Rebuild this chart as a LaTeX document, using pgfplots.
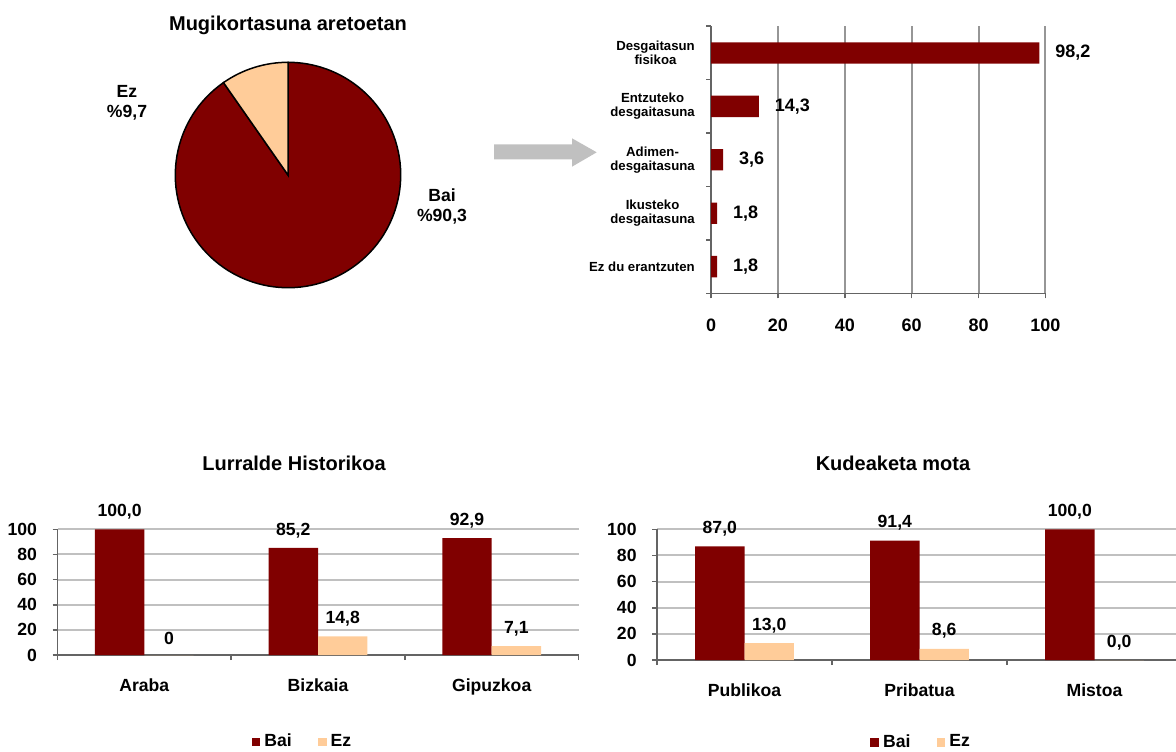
\documentclass[border=0pt]{standalone}
\usepackage{fontspec}
\setmainfont{Liberation Sans}
\usepackage{pgfplots}
\usepackage{pgfplotstable}
\pgfplotsset{compat=1.18}

\definecolor{bai}{RGB}{128,0,0}
\definecolor{ez}{RGB}{255,204,153}
\definecolor{gridc}{RGB}{192,192,192}
\definecolor{hgrid}{RGB}{150,150,150}
\definecolor{axc}{RGB}{100,100,100}
\definecolor{arrowc}{RGB}{192,192,192}

\newcommand\fa{\fontsize{8.8}{10}\selectfont\bfseries}
\newcommand\fb{\fontsize{10}{12}\selectfont\bfseries}
\newcommand\fc{\fontsize{6.6}{7}\selectfont\bfseries}
\newcommand\fd{\fontsize{9}{10}\selectfont\bfseries}

% pie: Bai / Ez
\def\pieBai{90.3}
\def\pieEz{9.7}
\pgfmathsetmacro\ezend{90+3.6*\pieEz}

\pgfplotstableread{
y val lbl
5 98.2 98,2
4 14.3 14,3
3 3.6 3,6
2 1.8 1,8
1 1.8 1,8
}\desgaitasuna

\pgfplotstableread{
x bai ez bailbl ezlbl
0 100.0 0 100,0 0
1 85.2 14.8 85,2 14,8
2 92.9 7.1 92,9 7,1
}\lurralde

\pgfplotstableread{
x bai ez bailbl ezlbl
0 87.0 13.0 87,0 13,0
1 91.4 8.6 91,4 8,6
2 100.0 0.0 100,0 0,0
}\kudeaketa

\pgfplotsset{
  vbars/.style={
    scale only axis, clip=false,
    ybar=0pt, bar width=24.7pt,
    xmin=-0.5, xmax=2.5, ymin=0, ymax=100,
    axis x line*=bottom, axis y line*=left,
    axis line style={axc, line width=0.8pt},
    tick style={axc, line width=0.8pt},
    xtick={0,1,2}, minor xtick={-0.5,0.5,1.5,2.5},
    ytick={0,20,...,100}, minor ytick={0,20,...,100},
    major tick length=0pt, minor tick length=2.5pt, tick align=outside,
    ymajorgrids, grid style={gridc, line width=1pt},
    tick label style={font=\fa},
    /pgf/number format/assume math mode=true,
    xticklabel style={yshift=-8.4pt},
    yticklabel style={xshift=-6.7pt},
    point meta=explicit symbolic,
    nodes near coords,
    every node near coord/.append style={font=\fa, yshift=1.5pt},
    legend style={draw=none, fill=none, font=\fa, legend columns=2,
      nodes={inner xsep=2pt},
      /tikz/every even column/.append style={column sep=11pt}},
  },
}

\begin{document}
\begin{tikzpicture}
\useasboundingbox (0,0) rectangle (588pt,375.5pt);

% pie chart
\node[font=\fb] at (144pt,363pt) {Mugikortasuna aretoetan};
\begin{axis}[at={(87.65pt,231.65pt)}, anchor=south west, scale only axis,
  width=112.7pt, height=112.7pt, hide axis, clip=false,
  xmin=-1, xmax=1, ymin=-1, ymax=1]
  \filldraw[fill=bai, draw=black, line width=0.75pt] (axis cs:0,0) -- ++(\ezend:56.35pt)
    arc[start angle=\ezend, end angle=450, radius=56.35pt] -- cycle;
  \filldraw[fill=ez, draw=black, line width=0.75pt] (axis cs:0,0) -- ++(90:56.35pt)
    arc[start angle=90, end angle=\ezend, radius=56.35pt] -- cycle;
\end{axis}
\node[font=\fa, align=center] at (63.5pt,324pt) {Ez\\\%9,7};
\node[font=\fa, align=center] at (221pt,272.5pt) {Bai\\\%90,3};

% arrow
\fill[arrowc] (247pt,303.35pt) -- (286pt,303.35pt) -- (286pt,306.35pt) -- (298.35pt,299.35pt)
  -- (286pt,292.15pt) -- (286pt,295.85pt) -- (247pt,295.85pt) -- cycle;

% horizontal bars
\begin{axis}[at={(355.5pt,228.85pt)}, anchor=south west, scale only axis,
  width=167.2pt, height=133.5pt, clip=false,
  xbar, bar width=10.7pt,
  xmin=0, xmax=100, ymin=0.5, ymax=5.5,
  axis x line*=bottom, axis y line*=left,
  axis line style={axc, line width=0.8pt},
  tick style={axc, line width=0.8pt},
  xtick={0,20,...,100}, minor xtick={0,20,...,100},
  ytick={1,...,5}, minor ytick={0.5,1.5,...,5.5},
  yticklabels={{Ez du erantzuten},{Ikusteko\\desgaitasuna},{Adimen-\\desgaitasuna},{Entzuteko\\desgaitasuna},{Desgaitasun\\fisikoa}},
  major tick length=0pt, minor tick length=2.5pt, tick align=outside,
  xmajorgrids, grid style={hgrid, line width=1pt},
  xticklabel style={font=\fd, yshift=-9.3pt},
  yticklabel style={font=\fc, align=center, xshift=-4.6pt},
  /pgf/number format/assume math mode=true,
  point meta=explicit symbolic, nodes near coords,
  every node near coord/.append style={font=\fd, anchor=west, xshift=4.5pt}]
  \addplot[fill=bai, draw=none] table[x=val, y=y, meta=lbl] {\desgaitasuna};
\end{axis}

% Lurralde Historikoa
\node[font=\fb] at (147pt,144pt) {Lurralde Historikoa};
\begin{axis}[vbars, at={(28.75pt,48pt)}, anchor=south west,
  width=260.5pt, height=62.85pt,
  xticklabels={Araba,Bizkaia,Gipuzkoa},
  legend style={at={(0.472,-0.692)}, anchor=center}]
  \addplot[fill=bai, draw=none, legend image code/.code={\fill[bai] (0pt,-2.2pt) rectangle (4.4pt,2.2pt);}]
    table[x=x, y=bai, meta=bailbl] {\lurralde};
  \addplot[fill=ez, draw=none, legend image code/.code={\fill[ez] (0pt,-2.2pt) rectangle (4.4pt,2.2pt);}]
    table[x=x, y=ez, meta=ezlbl] {\lurralde};
  \legend{Bai,Ez}
\end{axis}

% Kudeaketa mota
\node[font=\fb] at (446.5pt,144pt) {Kudeaketa mota};
\begin{axis}[vbars, at={(328.5pt,45.5pt)}, anchor=south west,
  width=262.5pt, height=65.35pt,
  xticklabels={Publikoa,Pribatua,Mistoa},
  legend style={at={(0.505,-0.63)}, anchor=center}]
  \addplot[fill=bai, draw=none, legend image code/.code={\fill[bai] (0pt,-2.2pt) rectangle (4.4pt,2.2pt);}]
    table[x=x, y=bai, meta=bailbl] {\kudeaketa};
  \addplot[fill=ez, draw=none, legend image code/.code={\fill[ez] (0pt,-2.2pt) rectangle (4.4pt,2.2pt);}]
    table[x=x, y=ez, meta=ezlbl] {\kudeaketa};
  \legend{Bai,Ez}
\end{axis}
\end{tikzpicture}
\end{document}
